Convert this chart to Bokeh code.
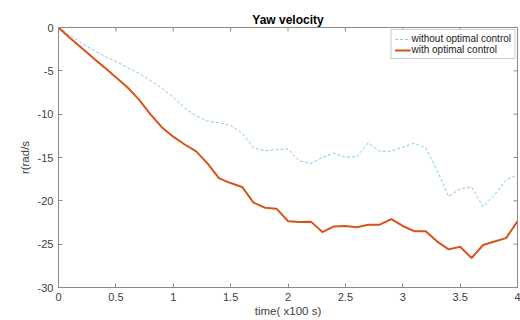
from bokeh.plotting import figure
from bokeh.models import Range1d, Legend, LegendItem, FixedTicker
from bokeh.embed import file_html
from bokeh.resources import INLINE

# ---- data ----
time = [0.0, 0.1, 0.2, 0.3, 0.4, 0.5, 0.6, 0.7, 0.8, 0.9,
        1.0, 1.1, 1.2, 1.3, 1.4, 1.5, 1.6, 1.7, 1.8, 1.9,
        2.0, 2.1, 2.2, 2.3, 2.4, 2.5, 2.6, 2.7, 2.8, 2.9,
        3.0, 3.1, 3.2, 3.3, 3.4, 3.5, 3.6, 3.7, 3.8, 3.9, 4.0]

without_control = [0.0, -0.9, -1.8, -2.6, -3.3, -3.9, -4.6, -5.3, -6.1, -7.0,
                   -8.05, -9.3, -10.2, -10.8, -11.0, -11.3, -12.2, -13.9, -14.2, -14.1,
                   -14.0, -15.4, -15.7, -15.0, -14.5, -14.95, -14.9, -13.3, -14.3, -14.25,
                   -13.8, -13.35, -13.9, -16.5, -19.5, -18.6, -18.4, -20.7, -19.3, -17.6, -17.0]

with_control = [0.0, -1.2, -2.35, -3.5, -4.6, -5.75, -6.9, -8.3, -10.0, -11.5,
                -12.6, -13.5, -14.3, -15.7, -17.4, -17.95, -18.4, -20.2, -20.8, -20.9,
                -22.35, -22.45, -22.4, -23.6, -22.95, -22.9, -23.05, -22.75, -22.75, -22.1,
                -22.9, -23.5, -23.5, -24.7, -25.6, -25.3, -26.6, -25.1, -24.7, -24.3, -22.35]

x_ticks = [0, 0.5, 1, 1.5, 2, 2.5, 3, 3.5, 4]
x_tick_labels = ["0", "0.5", "1", "1.5", "2", "2.5", "3", "3.5", "4"]
y_ticks = [-30, -25, -20, -15, -10, -5, 0]
y_tick_labels = ["-30", "-25", "-20", "-15", "-10", "-5", "0"]

title_text = "Yaw velocity"
x_label = "time( x100 s)"
y_label = "r(rad/s"
series_names = ["without optimal control", "with optimal control"]

FONT = "Liberation Sans"
AX = "#8a8a8a"
TXT = "#404040"

x0, x1 = 0, 4
y0, y1 = -30, 0
FRAME_W, FRAME_H = 459, 260
TICK = 4

p = figure(width=520, height=320, x_range=Range1d(x0, x1), y_range=Range1d(y0, y1),
           output_backend="svg", toolbar_location=None,
           min_border_left=58, min_border_right=3, min_border_top=27, min_border_bottom=33)
p.xgrid.visible = False
p.ygrid.visible = False
p.outline_line_color = AX
p.outline_line_width = 1
p.background_fill_color = "white"
p.border_fill_color = "white"

p.title.text = title_text
p.title.align = "center"
p.title.text_font = FONT
p.title.text_font_size = "12px"
p.title.text_font_style = "bold"
p.title.text_color = "#000000"
p.title.standoff = 2

r1 = p.line(time, without_control, line_color="#86c8ea", line_width=1, line_dash="3 2")
r2 = p.line(time, with_control, line_color="#D95319", line_width=2)

# inward ticks on the top and right edges of the box (MATLAB style)
dy = TICK * (y1 - y0) / FRAME_H
dx = TICK * (x1 - x0) / FRAME_W
p.segment(x0=x_ticks, y0=[y1] * len(x_ticks), x1=x_ticks, y1=[y1 - dy] * len(x_ticks),
          line_color=AX, line_width=1)
p.segment(x0=[x1] * len(y_ticks), y0=y_ticks, x1=[x1 - dx] * len(y_ticks), y1=y_ticks,
          line_color=AX, line_width=1)

def style(ax, ticks, labels):
    ax.ticker = FixedTicker(ticks=ticks)
    ax.major_label_overrides = {t: l for t, l in zip(ticks, labels)}
    ax.major_tick_in = TICK
    ax.major_tick_out = 0
    ax.minor_tick_in = 0
    ax.minor_tick_out = 0
    ax.axis_line_color = AX
    ax.major_tick_line_color = AX
    ax.major_label_text_font = FONT
    ax.major_label_text_color = TXT
    ax.major_label_text_font_size = "11px"
    ax.major_label_standoff = 5
    ax.axis_label_text_font = FONT
    ax.axis_label_text_font_size = "11.5px"
    ax.axis_label_text_font_style = "normal"
    ax.axis_label_text_color = TXT

style(p.xaxis[0], x_ticks, x_tick_labels)
style(p.yaxis[0], y_ticks, y_tick_labels)
p.xaxis[0].axis_label = x_label
p.xaxis[0].axis_label_standoff = 1
p.yaxis[0].axis_label = y_label
p.yaxis[0].axis_label_standoff = 4

legend = Legend(items=[LegendItem(label=series_names[0], renderers=[r1]),
                       LegendItem(label=series_names[1], renderers=[r2])],
                location="top_right", margin=2, padding=3, spacing=0,
                label_text_font=FONT, label_text_font_size="10px", label_text_color="#1a1a1a",
                label_height=10, glyph_height=10, glyph_width=16, label_standoff=1,
                border_line_color="#9a9a9a", border_line_width=1,
                background_fill_color="white", background_fill_alpha=1)
p.add_layout(legend)

open("out.html", "w").write(file_html(p, INLINE))
